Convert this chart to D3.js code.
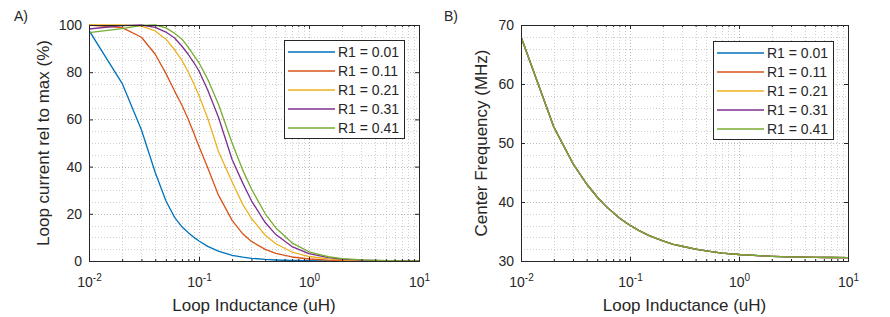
<!DOCTYPE html>
<html><head><meta charset="utf-8">
<script src="https://cdn.jsdelivr.net/npm/d3@7"></script>
<style>
body{margin:0;background:#fff;}
svg{display:block;}
text{font-family:"Liberation Sans",Arial,Helvetica,sans-serif;fill:#262626;}
</style>
</head><body>
<svg id="chart" width="890" height="317"></svg>
<script>
// ---- data ----
const inductance = [0.01,0.02,0.03,0.04,0.05,0.06,0.07,0.08,0.09,0.1,0.12,0.15,0.2,0.25,0.3,0.4,0.5,0.7,1,1.5,2,3,5,7,10];
const seriesLabels = ["R1 = 0.01","R1 = 0.11","R1 = 0.21","R1 = 0.31","R1 = 0.41"];
const seriesColors = ["#0072BD","#D95319","#EDB120","#7E2F8E","#77AC30"];

// Panel A: loop current relative to max (%)
const currentR001 = [97.7,75.3,55.5,37.5,25.5,18.5,14.5,12,10,8.5,6.2,4.2,2.4,1.6,1.15,0.65,0.42,0.22,0.11,0.05,0.03,0.01,0,0,0];
const currentR011 = [100,98.9,94.8,87.6,79.5,72,66,60,54,48.5,39.5,28,17.2,11.5,8.3,4.9,3.2,1.7,0.85,0.38,0.21,0.09,0.03,0.02,0.01];
const currentR021 = [100,100,99.5,97.5,94,89.5,85,80,75,70,60.5,46.5,33.5,24,18,10.9,7.3,3.8,1.9,0.86,0.49,0.22,0.08,0.04,0.02];
const currentR031 = [98.3,99.7,100,99,97,94.5,91,87.5,84,80.5,72.5,61,43,33,25.5,16.3,11.2,6.1,3.1,1.4,0.8,0.36,0.13,0.07,0.03];
const currentR041 = [96.8,98.5,99.8,100,98.8,96.5,94,90.5,87,84,77,66.5,50,38.5,30.5,20,14,7.7,3.9,1.8,1.0,0.46,0.17,0.09,0.04];

// Panel B: center frequency (MHz) - identical for all R1 values
const centerFreq = [68.0,52.7,46.5,43.05,40.85,39.3,38.2,37.3,36.6,36.05,35.2,34.3,33.4,32.8,32.5,32.0,31.7,31.35,31.1,30.9,30.8,30.7,30.62,30.59,30.56];

const xTickValues = [0.01,0.1,1,10];
const xTickExponents = ["-2","-1","0","1"];
const yTicksA = [0,20,40,60,80,100];
const yTicksB = [30,40,50,60,70];

// ---- drawing ----
const svg = d3.select("#chart");
const axisColor = "#262626";

function minorLogValues(){
  const v=[];
  for(let e=-2;e<1;e++) for(let k=2;k<=9;k++) v.push(k*Math.pow(10,e));
  return v;
}

function panel(o){
  const g = svg.append("g");
  const x = d3.scaleLog().domain([0.01,10]).range([o.x0,o.x1]);
  const y = d3.scaleLinear().domain(o.ydom).range([o.y1,o.y0]);
  const minorX = minorLogValues();
  const minorY = d3.range(o.ydom[0], o.ydom[1]+0.001, o.minorStep).filter(v=>v>o.ydom[0] && v<o.ydom[1]);
  const majorY = o.yticks.filter(v=>v>o.ydom[0] && v<o.ydom[1]);
  const majorX = [0.1,1];

  // grid
  const grid = g.append("g").attr("stroke-dasharray","1,2").attr("fill","none");
  grid.selectAll("line.mx").data(minorX).join("line")
    .attr("x1",d=>Math.round(x(d))+0.5).attr("x2",d=>Math.round(x(d))+0.5)
    .attr("y1",o.y0).attr("y2",o.y1).attr("stroke","#cfcfcf");
  grid.selectAll("line.my").data(minorY).join("line")
    .attr("y1",d=>Math.round(y(d))+0.5).attr("y2",d=>Math.round(y(d))+0.5)
    .attr("x1",o.x0).attr("x2",o.x1).attr("stroke","#cfcfcf");
  grid.selectAll("line.Mx").data(majorX).join("line")
    .attr("x1",d=>Math.round(x(d))+0.5).attr("x2",d=>Math.round(x(d))+0.5)
    .attr("y1",o.y0).attr("y2",o.y1).attr("stroke","#b8b8b8");
  grid.selectAll("line.My").data(majorY).join("line")
    .attr("y1",d=>Math.round(y(d))+0.5).attr("y2",d=>Math.round(y(d))+0.5)
    .attr("x1",o.x0).attr("x2",o.x1).attr("stroke","#b8b8b8");

  // clip
  const cid = "clip"+o.id;
  svg.append("clipPath").attr("id",cid).append("rect")
    .attr("x",o.x0).attr("y",o.y0-1).attr("width",o.x1-o.x0).attr("height",o.y1-o.y0+2);

  const line = d3.line().x((d,i)=>x(inductance[i])).y(d=>y(d));
  g.append("g").attr("clip-path","url(#"+cid+")")
    .selectAll("path").data(o.series).join("path")
    .attr("d",d=>line(d)).attr("fill","none")
    .attr("stroke",(d,i)=>seriesColors[i]).attr("stroke-width",1.3)
    .attr("stroke-linejoin","round");

  // axes
  const xAxis = d3.axisBottom(x).tickValues(xTickValues).tickSizeInner(-4).tickSizeOuter(0).tickPadding(16).tickFormat(()=>"10");
  const gx = g.append("g").attr("transform",`translate(0,${o.y1})`).call(xAxis);
  gx.selectAll(".tick text").each(function(d,i){
    d3.select(this).append("tspan").attr("dy","-0.55em").attr("font-size","10px").text(xTickExponents[i]);
  });
  const xMinor = d3.axisBottom(x).tickValues(minorX).tickSizeInner(-2).tickSizeOuter(0).tickFormat("");
  g.append("g").attr("transform",`translate(0,${o.y1})`).call(xMinor);
  g.append("g").attr("transform",`translate(0,${o.y0})`).call(d3.axisTop(x).tickValues(xTickValues).tickSizeInner(-4).tickSizeOuter(0).tickFormat(""));
  g.append("g").attr("transform",`translate(0,${o.y0})`).call(d3.axisTop(x).tickValues(minorX).tickSizeInner(-2).tickSizeOuter(0).tickFormat(""));

  const yAxis = d3.axisLeft(y).tickValues(o.yticks).tickSizeInner(-4).tickSizeOuter(0).tickPadding(7);
  g.append("g").attr("transform",`translate(${o.x0},0)`).call(yAxis);
  g.append("g").attr("transform",`translate(${o.x1},0)`).call(d3.axisRight(y).tickValues(o.yticks).tickSizeInner(-4).tickSizeOuter(0).tickFormat(""));

  g.selectAll(".tick line").attr("stroke",axisColor);
  g.selectAll(".domain").remove();
  g.selectAll(".tick text").attr("font-family","'Liberation Sans',Arial,sans-serif").attr("font-size","14px").attr("fill",axisColor);

  g.append("rect").attr("x",o.x0+0.5).attr("y",o.y0+0.5).attr("width",o.x1-o.x0).attr("height",o.y1-o.y0)
    .attr("fill","none").attr("stroke",axisColor).attr("stroke-width",1);

  // labels
  g.append("text").attr("x",(o.x0+o.x1)/2).attr("y",311).attr("text-anchor","middle")
    .attr("font-size","17px").text("Loop Inductance (uH)");
  g.append("text").attr("transform",`translate(${o.ylabX},${(o.y0+o.y1)/2}) rotate(-90)`)
    .attr("text-anchor","middle").attr("font-size","17px").text(o.ylabel);
  g.append("text").attr("x",o.tagX).attr("y",21).attr("font-family","'Liberation Serif','Times New Roman',serif")
    .attr("font-size","14px").attr("fill","#000").text(o.tag);

  // legend
  const lg = g.append("g").attr("transform",`translate(${o.legX},${o.legY})`);
  lg.append("rect").attr("x",0.5).attr("y",0.5).attr("width",120).attr("height",98)
    .attr("fill","#fff").attr("stroke",axisColor).attr("stroke-width",1);
  seriesLabels.forEach((lab,i)=>{
    const yy = 12 + i*19;
    lg.append("line").attr("x1",4).attr("x2",51).attr("y1",yy).attr("y2",yy)
      .attr("stroke",seriesColors[i]).attr("stroke-width",1.3);
    lg.append("text").attr("x",54).attr("y",yy).attr("dy","0.36em").attr("font-size","14px").text(lab);
  });
}

panel({id:"A", x0:89, x1:419, y0:25, y1:261, ydom:[0,100], yticks:yTicksA, minorStep:5,
  series:[currentR001,currentR011,currentR021,currentR031,currentR041],
  ylabel:"Loop current rel to max (%)", ylabX:49, tag:"A)", tagX:14, legX:284, legY:40});
panel({id:"B", x0:521, x1:848, y0:25, y1:261, ydom:[30,70], yticks:yTicksB, minorStep:2,
  series:[centerFreq,centerFreq,centerFreq,centerFreq,centerFreq],
  ylabel:"Center Frequency (MHz)", ylabX:487, tag:"B)", tagX:444, legX:713, legY:41});
</script>
</body></html>
